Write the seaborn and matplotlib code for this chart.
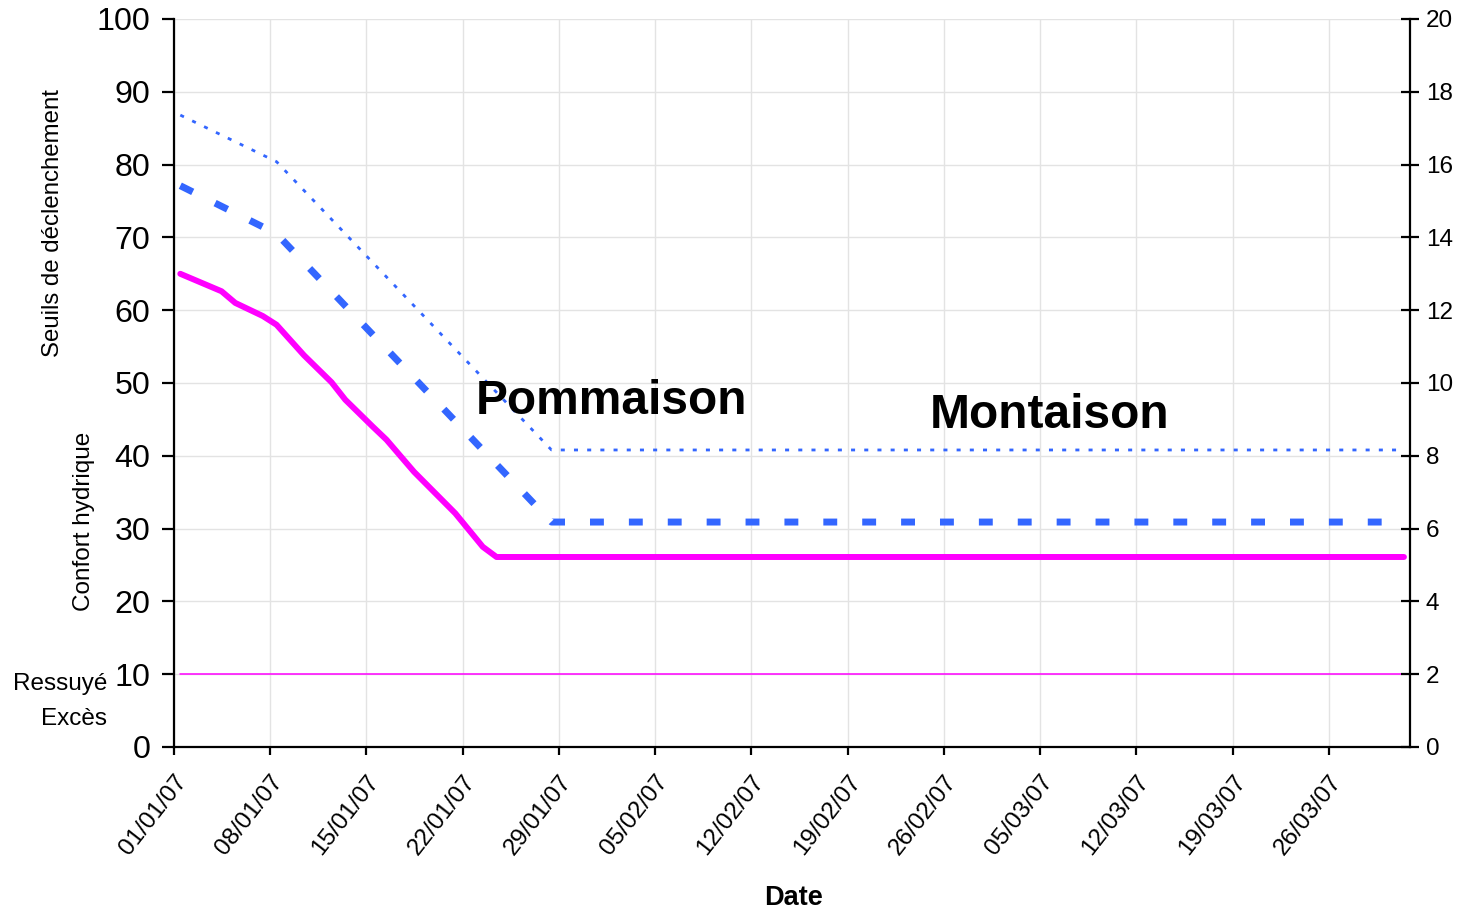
import matplotlib
matplotlib.use("Agg")
import matplotlib.pyplot as plt
import matplotlib.dates as mdates
import seaborn as sns
import pandas as pd
import numpy as np

# ---------------- data ----------------
confort_dates = ["2007-01-01", "2007-01-04", "2007-01-05", "2007-01-07", "2007-01-08",
                 "2007-01-10", "2007-01-12", "2007-01-13", "2007-01-15", "2007-01-16",
                 "2007-01-18", "2007-01-21", "2007-01-23", "2007-01-24", "2007-03-31"]
confort_values = [65.0, 62.6, 61.0, 59.2, 58.0, 53.8, 50.1, 47.7, 44.0, 42.2,
                  37.8, 32.1, 27.5, 26.1, 26.1]

seuil_pomm_dates = ["2007-01-01", "2007-01-08", "2007-01-28", "2007-03-31"]
seuil_pomm_values = [77.1, 70.5, 30.9, 30.9]

seuil_mont_dates = ["2007-01-01", "2007-01-08", "2007-01-28", "2007-03-31"]
seuil_mont_values = [86.8, 80.4, 40.8, 40.8]

ressuye_dates = ["2007-01-01", "2007-03-31"]
ressuye_values = [10, 10]

tick_dates = pd.date_range("2007-01-01", "2007-03-26", freq="7D")
left_ticks = list(range(0, 101, 10))
right_ticks = list(range(0, 21, 2))

MAGENTA = "#FF00FF"
BLUE = "#3366FF"
FONT = "Liberation Sans"

sns.set_style("white")
plt.rcParams["font.family"] = [FONT, "DejaVu Sans"]
plt.rcParams["text.color"] = "black"
plt.rcParams["axes.labelcolor"] = "black"
plt.rcParams["xtick.color"] = "black"
plt.rcParams["ytick.color"] = "black"

fig = plt.figure(figsize=(14.61, 9.17), dpi=100)
ax = fig.add_axes([174 / 1461, 1 - 747 / 917, (1410 - 174) / 1461, (747 - 19) / 917])

offset = pd.Timedelta(hours=11)

def frame(dates, values):
    return pd.DataFrame({"date": pd.to_datetime(dates) + offset, "val": values})

df_c = frame(confort_dates, confort_values)
df_p = frame(seuil_pomm_dates, seuil_pomm_values)
df_m = frame(seuil_mont_dates, seuil_mont_values)
df_r = frame(ressuye_dates, ressuye_values)

sns.lineplot(data=df_r, x="date", y="val", ax=ax, color=MAGENTA, linewidth=1.1)
sns.lineplot(data=df_m, x="date", y="val", ax=ax, color=BLUE, linewidth=2.0,
             linestyle=(0, (1.45, 3.3)))
sns.lineplot(data=df_p, x="date", y="val", ax=ax, color=BLUE, linewidth=5.0,
             linestyle=(0, (2.0, 3.6)))
sns.lineplot(data=df_c, x="date", y="val", ax=ax, color=MAGENTA, linewidth=4.3,
             solid_capstyle="round", solid_joinstyle="round")

for l in ax.get_lines():
    l.set_dash_capstyle("butt")

x0 = pd.Timestamp("2007-01-01")
ax.set_xlim(x0, x0 + pd.Timedelta(days=89.9))
ax.set_ylim(0, 100)
ax.set_xticks(tick_dates)
ax.xaxis.set_major_formatter(mdates.DateFormatter("%d/%m/%y"))
ax.set_yticks(left_ticks)
ax.set_xlabel("")
ax.set_ylabel("")

ax.grid(True, color="#e3e3e3", linewidth=1.0)
ax.set_axisbelow(True)

for s in ["top", "right"]:
    ax.spines[s].set_visible(False)
for s in ["left", "bottom"]:
    ax.spines[s].set_color("black")
    ax.spines[s].set_linewidth(1.6)

ax.tick_params(axis="y", direction="out", length=9, width=1.6, pad=8,
               labelsize=23.2, colors="black", left=True)
ax.tick_params(axis="x", direction="out", length=6, width=1.6, pad=11,
               labelsize=17.5, colors="black", bottom=True)
for lab in ax.get_xticklabels():
    lab.set_rotation(52)
    lab.set_ha("right")
    lab.set_rotation_mode("anchor")

ax2 = ax.twinx()
ax2.set_ylim(0, 20)
ax2.set_yticks(right_ticks)
ax2.spines["top"].set_visible(False)
ax2.spines["left"].set_visible(False)
ax2.spines["bottom"].set_visible(False)
ax2.spines["right"].set_color("black")
ax2.spines["right"].set_linewidth(1.6)
ax2.tick_params(axis="y", direction="inout", length=13, width=1.6, pad=5,
                labelsize=17.5, colors="black", right=True)
ax2.grid(False)

ax.text(pd.Timestamp("2007-01-01") + pd.Timedelta(days=31.85), 47.4, "Pommaison",
        fontsize=34.5, fontweight="bold", ha="center", va="center", color="black")
ax.text(pd.Timestamp("2007-01-01") + pd.Timedelta(days=63.7), 45.5, "Montaison",
        fontsize=34.5, fontweight="bold", ha="center", va="center", color="black")

fig.text(794 / 1461, 1 - 898 / 917, "Date", fontsize=19.5, fontweight="bold",
         ha="center", va="center", color="black")
fig.text(53 / 1461, 1 - 223 / 917, "Seuils de déclenchement", fontsize=17.3,
         rotation=90, ha="center", va="center", color="black")
fig.text(84 / 1461, 1 - 521 / 917, "Confort hydrique", fontsize=17.5,
         rotation=90, ha="center", va="center", color="black")
fig.text(107 / 1461, 1 - 684 / 917, "Ressuyé", fontsize=17.5, ha="right", va="center",
         color="black")
fig.text(107 / 1461, 1 - 719 / 917, "Excès", fontsize=17.5, ha="right", va="center",
         color="black")

fig.savefig("out.png", dpi=100, facecolor="white")
